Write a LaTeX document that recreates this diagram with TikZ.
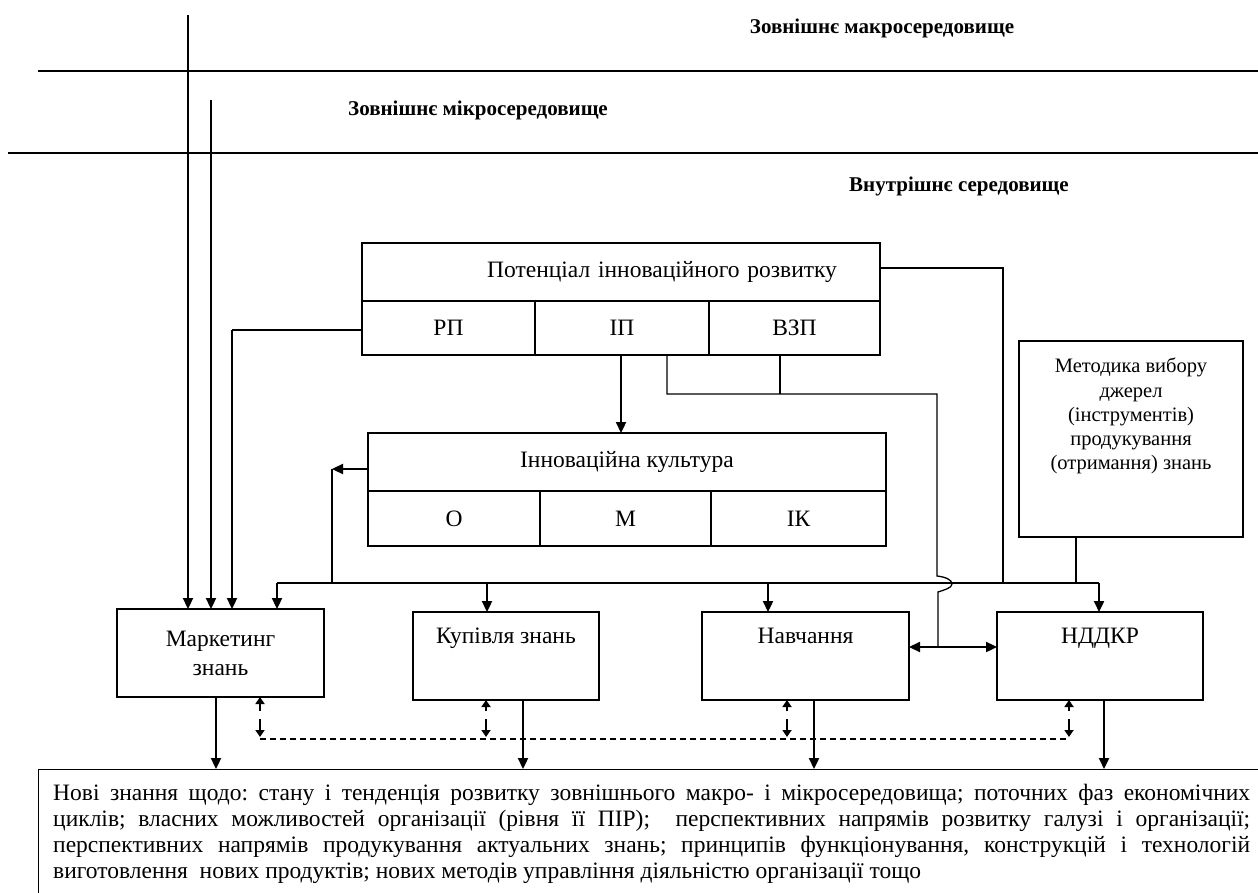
\documentclass[tikz,border=0pt]{standalone}
\usepackage{fontspec}
\setmainfont{Liberation Serif}
\usetikzlibrary{arrows.meta}
\begin{document}
\begin{tikzpicture}[x=1pt,y=-1pt,
  font=\fontsize{23.5}{26}\selectfont,
  box/.style={draw, line width=1.3pt, anchor=north west, inner sep=0pt, outer sep=0pt, align=center},
  thinl/.style={line width=1.3pt},
  arr/.style={line width=2.3pt, -{Triangle[length=11pt,width=10pt]}},
  upar/.style={line width=2pt, -{Triangle[length=7pt,width=9pt]}},
  head/.style={font=\bfseries\fontsize{21}{25}\selectfont, inner sep=0pt},
]
\useasboundingbox (0,0) rectangle (1258,893);
\clip (0,0) rectangle (1258,893);

% environment levels
\draw[thinl] (38,71) -- (1258,71);
\draw[thinl] (8,153) -- (1258,153);
\node[head] (macro) at (882,28) {Зовнішнє макросередовище};
\node[head] (micro) at (478,110) {Зовнішнє мікросередовище};
\node[head] (inner) at (959,186) {Внутрішнє середовище};

% potential of innovative development
\node[box, minimum width=518, minimum height=58, inner xsep=43pt, text width=432pt, align=right] (pot) at (362,243) {Потенціал інноваційного розвитку};
\node[box, minimum width=173, minimum height=54] (rp) at (362,301) {РП};
\node[box, minimum width=174, minimum height=54] (ip) at (535,301) {ІП};
\node[box, minimum width=171, minimum height=54] (vzp) at (709,301) {ВЗП};

% innovation culture
\node[box, minimum width=518, minimum height=58] (cult) at (368,433) {Інноваційна культура};
\node[box, minimum width=172, minimum height=55] (o) at (368,491) {О};
\node[box, minimum width=171, minimum height=55] (m) at (540,491) {М};
\node[box, minimum width=175, minimum height=55] (ik) at (711,491) {ІК};

% method box
\node[box, minimum width=224, minimum height=196] (met) at (1019,341) {};
\node[anchor=north, inner sep=0pt, align=center, font=\fontsize{20.5}{24.25}\selectfont] (mettxt) at ([yshift=-17pt]met.north) {Методика вибору\\джерел\\(інструментів)\\продукування\\(отримання) знань};

% knowledge sources
\node[box, minimum width=207, minimum height=88] (mark) at (117,609) {Маркетинг\\[3pt]знань};
\node[box, minimum width=186, minimum height=88, text depth=40pt] (kup) at (413,612) {Купівля знань};
\node[box, minimum width=207, minimum height=88, text depth=40pt] (nav) at (702,612) {Навчання};
\node[box, minimum width=206, minimum height=88, text depth=40pt] (nddkr) at (997,612) {НДДКР};

% new knowledge
\node[draw, line width=1.3pt, anchor=north west, minimum width=1260, minimum height=160, inner sep=0pt] (kbox) at (38,769) {};
\node[anchor=north west, inner sep=0pt, text width=1197pt, align=justify, font=\fontsize{23.5}{26}\selectfont] (know) at (53,784) {\frenchspacing Нові знання щодо: стану і тенденція розвитку зовнішнього макро- і мікросередовища; поточних фаз економічних\linebreak циклів; власних можливостей організації (рівня її ПІР);\ \ перспективних напрямів розвитку галузі і організації;\linebreak перспективних напрямів продукування актуальних знань; принципів функціонування, конструкцій і технологій\linebreak виготовлення\ \ нових продуктів; нових методів управління діяльністю організації тощо};

% connectors: environment to marketing
\coordinate (macroline) at (188,15);
\coordinate (microline) at (211,100);
\draw[arr] (macroline) -- (macroline |- mark.north);
\draw[arr] (microline) -- (microline |- mark.north);
\coordinate (rpturn) at (232,330);
\draw[thinl] (rp.west |- rpturn) -- (rpturn);
\draw[arr] (rpturn) -- (rpturn |- mark.north);

% distribution bus
\coordinate (busL) at (277,583);
\coordinate (busR) at (1099,583);
\draw[thinl] (busL) -- (busR);
\draw[arr] (busL) -- (busL |- mark.north);
\draw[arr] (487,583) -- (487,583 |- kup.north);
\draw[arr] (768,583) -- (768,583 |- nav.north);
\draw[arr] (busR) -- (busR |- nddkr.north);

% potential to culture and to bus
\draw[arr] (ip.south -| 621,0) -- (621,0 |- cult.north);
\coordinate (potcorner) at (1003,268);
\draw[thinl] (pot.east |- potcorner) -- (potcorner) -- (1003,583);
\coordinate (cultcorner) at (332,469);
\draw[arr] (cult.west |- cultcorner) -- (cultcorner);
\draw[thinl] (cultcorner) -- (332,583);
\draw[thinl] (met.south -| 1076,0) -- (1076,583);

% link from ІП/ВЗП to learning and R&D, jumping over the bus
\coordinate (ipdrop) at (667,394);
\coordinate (vzpdrop) at (780,394);
\draw[thinl] (ip.south -| ipdrop) -- (ipdrop) -- (937,394) -- (937,576)
  .. controls (946,577) and (952,580) .. (952,584)
  .. controls (952,588) and (944,590) .. (938,592) -- (938,647);
\draw[thinl] (vzp.south -| vzpdrop) -- (vzpdrop);
\coordinate (navlink) at (938,647);
\draw[line width=2.3pt, {Triangle[length=11pt,width=10pt]}-{Triangle[length=11pt,width=10pt]}] (nav.east |- navlink) -- (nddkr.west |- navlink);

% outputs to new knowledge
\draw[arr] (216,0 |- mark.south) -- (216,0 |- kbox.north);
\draw[arr] (523,0 |- kup.south) -- (523,0 |- kbox.north);
\draw[arr] (814,0 |- nav.south) -- (814,0 |- kbox.north);
\draw[arr] (1104,0 |- nddkr.south) -- (1104,0 |- kbox.north);

% mutual exchange
\draw[line width=1.2pt, dash pattern=on 6pt off 4pt] (260,739) -- (1069,739);
\foreach \xx/\bx in {260/mark, 486/kup, 787/nav, 1069/nddkr}{
  \draw[upar] (\xx,711) -- (\xx,0 |- \bx.south);
  \draw[upar] (\xx,719) -- (\xx,737);
}
\end{tikzpicture}
\end{document}
